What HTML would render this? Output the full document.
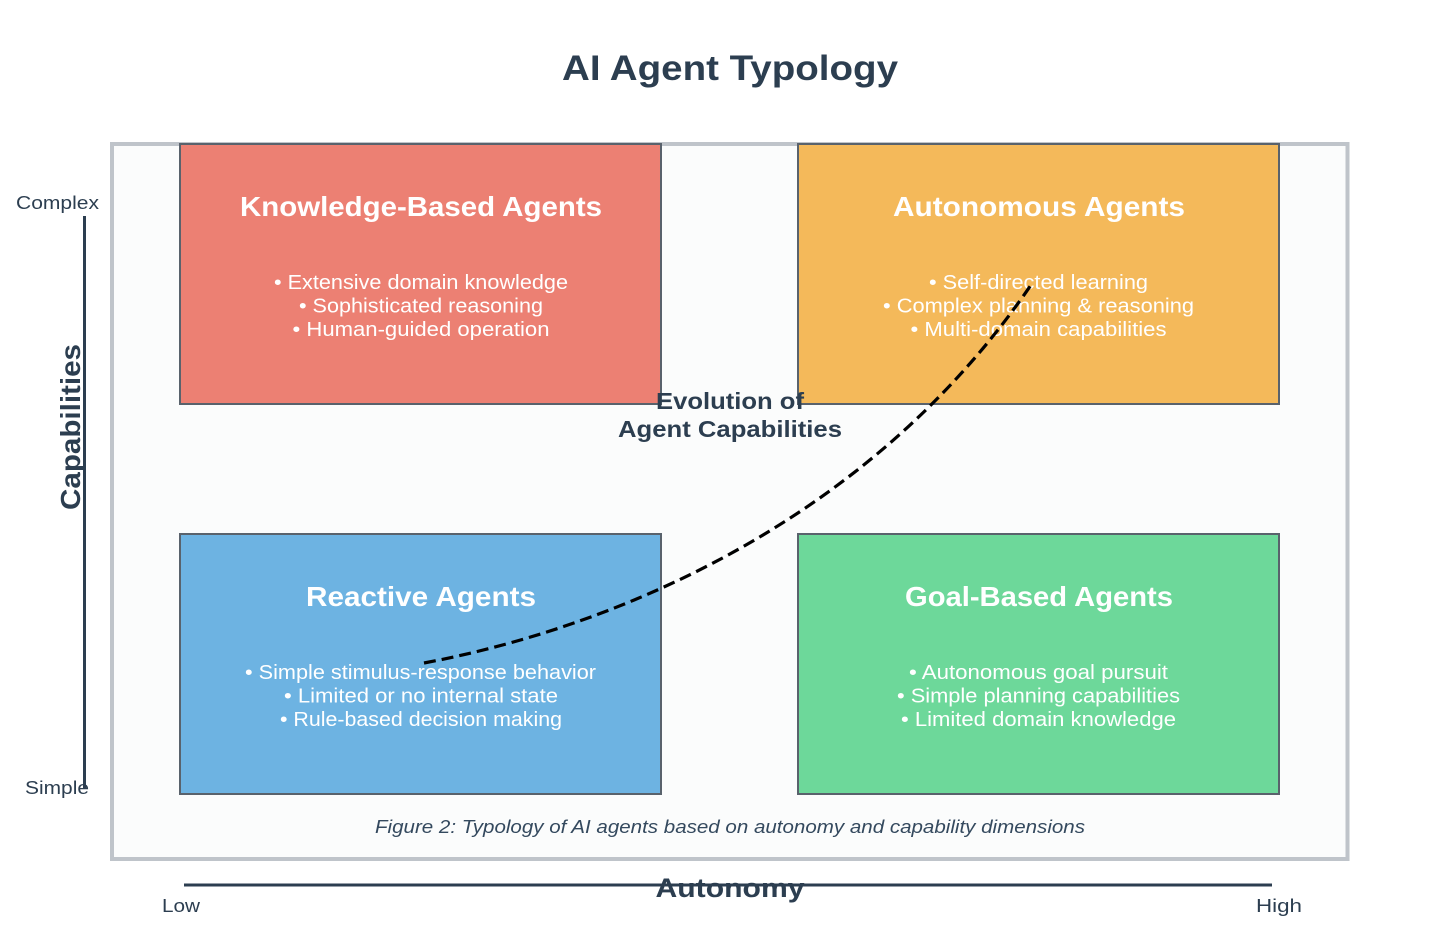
<!DOCTYPE html>
<html>
<head>
<meta charset="utf-8">
<style>
html,body{margin:0;padding:0;background:#ffffff;}
svg{display:block;}
text{font-family:"Liberation Sans", sans-serif;}
</style>
</head>
<body>
<svg width="1431" height="939" viewBox="0 0 1431 939" xmlns="http://www.w3.org/2000/svg">
  <rect x="0" y="0" width="1431" height="939" fill="#ffffff"/>
  <!-- Title -->
  <text x="730" y="80" text-anchor="middle" font-size="35" font-weight="bold" fill="#2c3e50" textLength="336" lengthAdjust="spacingAndGlyphs">AI Agent Typology</text>

  <!-- Frame -->
  <rect x="112" y="144" width="1235.5" height="715" fill="#fbfcfc" stroke="#bfc4ca" stroke-width="4"/>

  <!-- Boxes -->
  <rect x="180" y="144" width="481" height="260" fill="#ec8073" stroke="#59626c" stroke-width="2"/>
  <rect x="798" y="144" width="481" height="260" fill="#f4b95a" stroke="#59626c" stroke-width="2"/>
  <rect x="180" y="534" width="481" height="260" fill="#6db3e2" stroke="#59626c" stroke-width="2"/>
  <rect x="798" y="534" width="481" height="260" fill="#6dd89a" stroke="#59626c" stroke-width="2"/>

  <!-- Box titles -->
  <g font-size="28" font-weight="bold" fill="#ffffff" text-anchor="middle">
    <text x="421" y="216" textLength="362" lengthAdjust="spacingAndGlyphs">Knowledge-Based Agents</text>
    <text x="1039" y="216" textLength="292" lengthAdjust="spacingAndGlyphs">Autonomous Agents</text>
    <text x="421" y="606" textLength="230" lengthAdjust="spacingAndGlyphs">Reactive Agents</text>
    <text x="1039" y="606" textLength="268" lengthAdjust="spacingAndGlyphs">Goal-Based Agents</text>
  </g>

  <!-- Bullets -->
  <g font-size="20" fill="#ffffff" text-anchor="middle">
    <text x="421" y="289" textLength="294" lengthAdjust="spacingAndGlyphs">• Extensive domain knowledge</text>
    <text x="421" y="312.5" textLength="244" lengthAdjust="spacingAndGlyphs">• Sophisticated reasoning</text>
    <text x="421" y="336" textLength="257" lengthAdjust="spacingAndGlyphs">• Human-guided operation</text>

    <text x="1038.5" y="289" textLength="219" lengthAdjust="spacingAndGlyphs">• Self-directed learning</text>
    <text x="1038.5" y="312.5" textLength="311" lengthAdjust="spacingAndGlyphs">• Complex planning &amp; reasoning</text>
    <text x="1038.5" y="336" textLength="256" lengthAdjust="spacingAndGlyphs">• Multi-domain capabilities</text>

    <text x="420.5" y="679" textLength="351" lengthAdjust="spacingAndGlyphs">• Simple stimulus-response behavior</text>
    <text x="421" y="702.5" textLength="274" lengthAdjust="spacingAndGlyphs">• Limited or no internal state</text>
    <text x="421" y="726" textLength="282" lengthAdjust="spacingAndGlyphs">• Rule-based decision making</text>

    <text x="1038.5" y="679" textLength="259" lengthAdjust="spacingAndGlyphs">• Autonomous goal pursuit</text>
    <text x="1038.5" y="702.5" textLength="283" lengthAdjust="spacingAndGlyphs">• Simple planning capabilities</text>
    <text x="1038.5" y="726" textLength="275" lengthAdjust="spacingAndGlyphs">• Limited domain knowledge</text>
  </g>

  <!-- Evolution curve -->
  <path d="M424,663 C600,630 865,530 1033,282" fill="none" stroke="#000000" stroke-width="3.2" stroke-dasharray="12,6"/>

  <!-- Evolution label -->
  <g font-size="23" font-weight="bold" fill="#2c3e50" text-anchor="middle">
    <text x="730" y="409" textLength="148" lengthAdjust="spacingAndGlyphs">Evolution of</text>
    <text x="730" y="437" textLength="224" lengthAdjust="spacingAndGlyphs">Agent Capabilities</text>
  </g>

  <!-- Caption -->
  <text x="730" y="833" text-anchor="middle" font-size="18" font-style="italic" fill="#34495e" textLength="710" lengthAdjust="spacingAndGlyphs">Figure 2: Typology of AI agents based on autonomy and capability dimensions</text>

  <!-- Vertical axis -->
  <line x1="84.5" y1="216" x2="84.5" y2="789" stroke="#2c3e50" stroke-width="3"/>
  <text x="57.5" y="209" text-anchor="middle" font-size="18" fill="#2c3e50" textLength="83" lengthAdjust="spacingAndGlyphs">Complex</text>
  <text x="57" y="794" text-anchor="middle" font-size="18" fill="#2c3e50" textLength="64" lengthAdjust="spacingAndGlyphs">Simple</text>
  <text x="0" y="0" transform="translate(80,427) rotate(-90)" text-anchor="middle" font-size="28" font-weight="bold" fill="#2c3e50" textLength="166" lengthAdjust="spacingAndGlyphs">Capabilities</text>

  <!-- Horizontal axis -->
  <line x1="184" y1="885" x2="1272" y2="885" stroke="#2c3e50" stroke-width="3"/>
  <text x="730" y="897" text-anchor="middle" font-size="27" font-weight="bold" fill="#2c3e50" textLength="149" lengthAdjust="spacingAndGlyphs">Autonomy</text>
  <text x="181" y="912" text-anchor="middle" font-size="18" fill="#2c3e50" textLength="38" lengthAdjust="spacingAndGlyphs">Low</text>
  <text x="1279" y="912" text-anchor="middle" font-size="18" fill="#2c3e50" textLength="46" lengthAdjust="spacingAndGlyphs">High</text>
</svg>
</body>
</html>
